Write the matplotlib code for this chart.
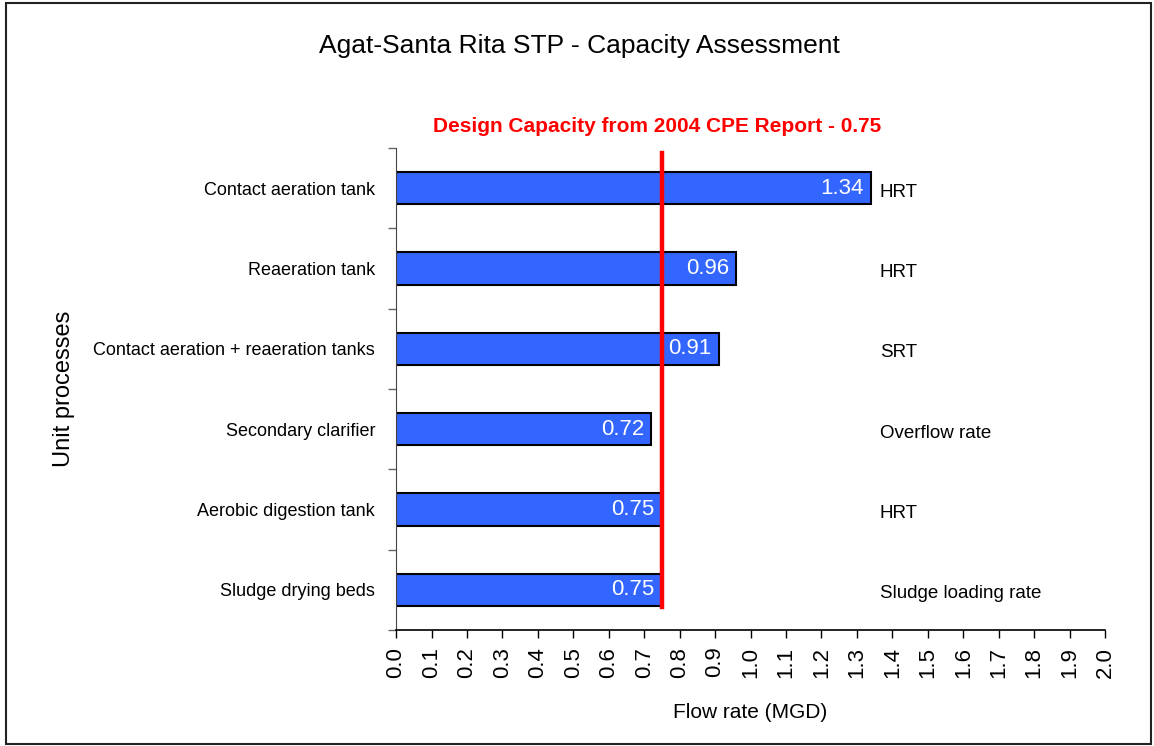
import matplotlib
matplotlib.use("Agg")
import matplotlib.pyplot as plt
import numpy as np
from matplotlib.patches import Rectangle

plt.rcParams["font.family"] = ["Liberation Sans", "DejaVu Sans"]

PROCESSES = [
    "Contact aeration tank",
    "Reaeration tank",
    "Contact aeration + reaeration tanks",
    "Secondary clarifier",
    "Aerobic digestion tank",
    "Sludge drying beds",
]
CAPACITY_MGD = [1.34, 0.96, 0.91, 0.72, 0.75, 0.75]
CRITERIA = ["HRT", "HRT", "SRT", "Overflow rate", "HRT", "Sludge loading rate"]
DESIGN_CAPACITY = 0.75
X_TICKS = [round(v, 1) for v in np.arange(0, 2.01, 0.1)]

BAR_COLOR = "#3366FF"


def main():
    fig = plt.figure(figsize=(11.54, 7.46), dpi=100)
    fig.patches.append(
        Rectangle((0.005, 0.003), 0.992, 0.993, transform=fig.transFigure,
                  fill=False, edgecolor="#222222", linewidth=1.5)
    )
    ax = fig.add_axes([0.3432, 0.1555, 0.6144, 0.6461])

    y = np.arange(len(PROCESSES))
    ax.barh(y, CAPACITY_MGD, height=0.4, color=BAR_COLOR,
            edgecolor="black", linewidth=1.5, zorder=2)

    for yi, val in zip(y, CAPACITY_MGD):
        ax.text(val - 0.02, yi, f"{val:.2f}", ha="right", va="center",
                color="white", fontsize=16, zorder=4)

    for yi, crit in zip(y, CRITERIA):
        ax.text(1.365, yi + 0.05, crit, ha="left", va="center",
                fontsize=13.5, color="black")

    ax.axvline(DESIGN_CAPACITY, ymin=0.048, ymax=0.99, color="#FF0000",
               linewidth=3.2, zorder=3)
    ax.text(0.737, 1.045, "Design Capacity from 2004 CPE Report - 0.75",
            transform=ax.get_xaxis_transform(), ha="center", va="center",
            color="#FF0000", fontsize=15, fontweight="bold")

    ax.set_xlim(0, 2.0)
    ax.set_ylim(len(PROCESSES) - 0.5, -0.5)
    ax.set_xticks(X_TICKS)
    ax.set_xticklabels([f"{v:.1f}" for v in X_TICKS], rotation=90, fontsize=16)
    ax.set_yticks(y)
    ax.set_yticklabels(PROCESSES, fontsize=13)
    ax.set_yticks(np.arange(-0.5, len(PROCESSES)), minor=True)
    ax.tick_params(axis="y", which="major", length=0, pad=15)
    ax.tick_params(axis="y", which="minor", length=6, color="#666666", width=1)
    ax.tick_params(axis="x", length=6, width=1, pad=6)

    for side in ("top", "right"):
        ax.spines[side].set_visible(False)
    ax.spines["left"].set_color("#444444")
    ax.spines["bottom"].set_linewidth(1.2)

    ax.set_xlabel("Flow rate (MGD)", fontsize=15)
    ax.xaxis.set_label_coords(0.5, -0.152)
    ax.set_ylabel("Unit processes", fontsize=17)
    ax.yaxis.set_label_coords(-0.453, 0.5)

    fig.text(0.502, 0.938, "Agat-Santa Rita STP - Capacity Assessment",
             ha="center", va="center", fontsize=19)

    fig.savefig("out.png", dpi=100)
    plt.close(fig)


if __name__ == "__main__":
    main()
